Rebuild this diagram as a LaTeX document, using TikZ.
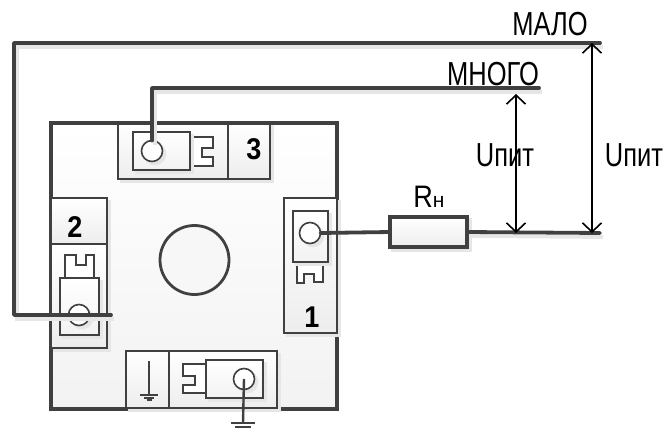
\documentclass[tikz,border=0pt]{standalone}
\usepackage{fontspec}
\setmainfont{Liberation Sans}
\usetikzlibrary{arrows.meta,shadows}
\definecolor{ink}{HTML}{404040}
\definecolor{shade}{HTML}{E6E6E6}
\newcommand\pbox[6]{%
  \pgfmathsetmacro\pw{#4-#2}\pgfmathsetmacro\ph{#5-#3}%
  \pgfmathsetmacro\pcx{(#2+#4)/2}\pgfmathsetmacro\pcy{(#3+#5)/2}%
  \node[#6,minimum width=\pw pt,minimum height=\ph pt] (#1) at (\pcx,\pcy) {};}
\newcommand\bigtxt[1]{\fontsize{26}{26}\selectfont\scalebox{0.98}[1.28]{#1}}
\newcommand\numtxt[1]{\fontsize{25}{25}\selectfont\bfseries\scalebox{1.08}[1.2]{#1}}
\tikzset{
  every node/.style={inner sep=0pt,outer sep=0pt},
  softshadow/.style={general shadow={shadow xshift=3pt,shadow yshift=-3pt,fill=shade,draw=shade}},
  panel/.style={rectangle,draw=ink,line width=1.5pt,top color=white,bottom color=black!7,softshadow},
  tabpart/.style={rectangle,draw=ink,line width=1.5pt,top color=white,bottom color=black!5,softshadow},
  pin/.style={circle,draw=ink,line width=1.6pt,fill=white,minimum size=21pt,softshadow},
  tabline/.style={draw=ink,line width=1.4pt,fill=white,line join=miter},
  wire/.style={draw=ink,line width=3.8pt,line cap=round,line join=round},
  wireshadow/.style={draw=shade,line width=3.8pt},
  thinwire/.style={draw=ink,line width=2.4pt},
  frameline/.style={draw=ink,line width=3.6pt,line join=miter},
  gnd/.style={draw=ink,line width=1.8pt},
  volt/.style={draw=black,line width=1.6pt,{Straight Barb[length=9pt,width=19pt,line width=1.6pt]}-{Straight Barb[length=9pt,width=19pt,line width=1.6pt]}},
}
\begin{document}
\begin{tikzpicture}[x=1pt,y=-1pt]
\useasboundingbox (0,0) rectangle (663,428);
% body
\pbox{body}{51}{123}{337}{409}{rectangle,top color=white,bottom color=black!5}
% top tab (under the frame)
\pbox{p3a}{118}{123}{228}{179}{panel}
\pbox{p3b}{228}{123}{270}{179}{panel}
\draw[frameline] (51,409) -- (51,123) -- (337,123) -- (337,409) -- cycle;
% panels
\pbox{p2a}{51}{198}{107}{244}{panel}
\pbox{p2b}{51}{244}{107}{348}{panel}
\pbox{p1}{284}{198}{337}{333}{panel}
\pbox{p4a}{126}{351}{169}{408}{panel}
\pbox{p4b}{169}{351}{277}{408}{panel}
% big hole
\node[circle,draw=ink,line width=2.8pt,fill=black!3,minimum size=69pt] (hole) at (194.5,260) {};
% transistor 3
\draw[tabline] (190,137) -- (213,137) -- (213,148) -- (202,148) -- (202,157) -- (213,157) -- (213,166) -- (190,166) -- cycle;
\pbox{t3}{133}{132}{190}{170}{tabpart}
\node[pin] (c3) at (152,151) {};
% transistor 2
\draw[tabline] (65,278) -- (65,255) -- (76,255) -- (76,265) -- (86,265) -- (86,255) -- (94,255) -- (94,278) -- cycle;
\pbox{t2}{60}{278}{99}{335}{tabpart}
\node[pin] (c2) at (79,315) {};
% transistor 1
\draw[tabline] (297,262) -- (297,283) -- (304,283) -- (304,274) -- (314,274) -- (314,282) -- (323,282) -- (323,262) -- cycle;
\pbox{t1}{293}{211}{328}{262}{tabpart}
\node[pin] (c1) at (310,233) {};
% transistor 4
\draw[tabline] (206,364) -- (183,364) -- (183,376) -- (195,376) -- (195,385) -- (183,385) -- (183,393) -- (206,393) -- cycle;
\pbox{t4}{206}{360}{263}{398}{tabpart}
\node[pin] (c4) at (244,379) {};
% numbers
\node (n3) at (254,149) {\numtxt{3}};
\node (n2) at (75,227) {\numtxt{2}};
\node (n1) at (312,317) {\numtxt{1}};
% resistor
\pbox{rn}{390}{217}{467}{247}{rectangle,draw=ink,line width=3.4pt,top color=white,bottom color=black!7,softshadow}
\node (rl) at (429,197) {\fontsize{27}{27}\selectfont\scalebox{1}[1.15]{R}\fontsize{21}{21}\selectfont н};
% wire anchors
\coordinate (maloR) at (600,43);
\coordinate (malotl) at (14,43);
\coordinate (malobl) at (14,315);
\coordinate (maloE) at (111,315);
\coordinate (mnogoE) at (539,88);
\coordinate (mnogoC) at (152,88);
\coordinate (loadE) at (600,233);
\coordinate (a1t) at (516,94);
\coordinate (a1b) at (516,233);
\coordinate (a2t) at (592,43);
\coordinate (a2b) at (592,233);
\coordinate (g1) at (243,423);
\coordinate (g2) at (149,395);
% wire shadows
\begin{scope}[transform canvas={shift={(3,4)}}]
\draw[wireshadow] (maloR) -- (malotl) -- (malobl) -- (maloE);
\draw[wireshadow] (c3.north) -- (mnogoC) -- (mnogoE);
\draw[wireshadow] (rn.east) -- (loadE);
\end{scope}
% wires
\draw[wire] (maloR) -- (malotl) -- (malobl) -- (maloE);
\draw[wire] (c3.north) -- (mnogoC) -- (mnogoE);
\draw[wire] (c1.east) -- (rn.west);
\draw[wire] (rn.east) -- (loadE);
\draw[thinwire] (c4.center) -- (g1);
\draw[gnd,line width=2.4pt] (g1) ++(-12,0) -- ++(24,0);
\draw[gnd] (g1) ++(-8,4) -- ++(16,0);
% ground inside panel
\draw[thinwire] (149,361) -- (g2);
\draw[gnd,line width=2.4pt] (g2) ++(-9,0) -- ++(18,0);
\draw[gnd,line width=2pt] (g2) ++(-5,3) -- ++(10,0);
\draw[gnd,line width=2pt] (g2) ++(-2.5,5) -- ++(5,0);
% voltage arrows
\draw[volt] (a1t) -- (a1b);
\draw[volt] (a2t) -- (a2b);
% labels
\node (malo) at (550,24) {\bigtxt{МАЛО}};
\node (mnogo) at (493,74) {\bigtxt{МНОГО}};
\node (u1) at (505,155) {\bigtxt{Uпит}};
\node (u2) at (634,155) {\bigtxt{Uпит}};
\end{tikzpicture}
\end{document}
